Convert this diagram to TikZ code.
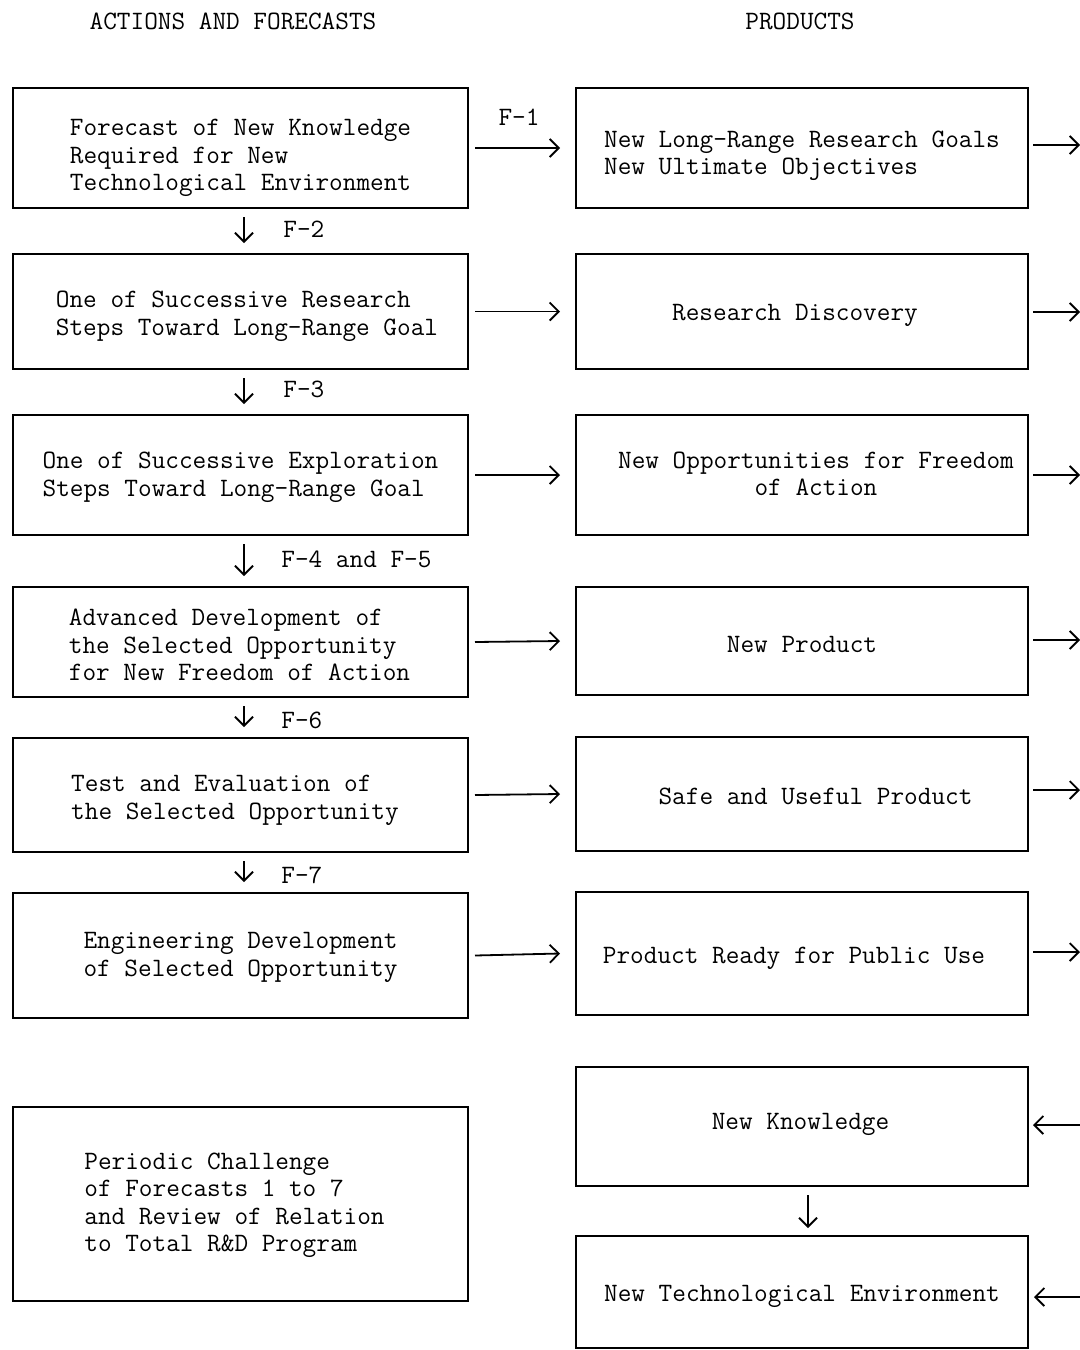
\documentclass[tikz,border=0pt]{standalone}
\usetikzlibrary{arrows.meta}
\begin{document}
\begin{tikzpicture}[x=0.5pt,y=-0.5pt,
  txt/.style={font=\ttfamily\fontsize{13.25}{13.75}\selectfont, inner sep=0pt},
  box/.style={draw, line width=1pt, rectangle, inner sep=0pt, outer sep=0pt},
  lbox/.style={box, minimum width=227.5pt},
  rbox/.style={box, minimum width=226pt},
  arr/.style={line width=0.9pt, -{Straight Barb[length=4.5pt,width=9pt]}},
  lbl/.style={txt}]
\useasboundingbox (0,0) rectangle (1080,1350);
% headers
\node[lbl] (h1) at (233,21) {ACTIONS AND FORECASTS};
\node[lbl] (h2) at (800,21) {PRODUCTS};
% left column boxes
\node[lbox, minimum height=60pt] (L1) at (240.5,148) {};
\node[lbox, minimum height=57.5pt] (L2) at (240.5,311.5) {};
\node[lbox, minimum height=60pt] (L3) at (240.5,475) {};
\node[lbox, minimum height=55pt] (L4) at (240.5,642) {};
\node[lbox, minimum height=57pt] (L5) at (240.5,795) {};
\node[lbox, minimum height=62.5pt] (L6) at (240.5,955.5) {};
\node[lbox, minimum height=97pt] (L7) at (240.5,1204) {};
% left column texts
\node[txt, align=left] (tL1) at ([yshift=-5pt]L1.center) {Forecast of New Knowledge\\Required for New\\Technological Environment};
\node[txt, align=left] (tL2) at ([xshift=3.25pt,yshift=-2.5pt]L2.center) {One of Successive Research\\Steps Toward Long-Range Goal};
\node[txt, align=left] (tL3) at ([yshift=-1.25pt]L3.center) {One of Successive Exploration\\ Steps Toward Long-Range Goal};
\node[txt, align=left] (tL4) at ([xshift=-0.5pt,yshift=-1.5pt]L4.center) {Advanced Development of\\the Selected Opportunity\\for New Freedom of Action};
\node[txt, align=left] (tL5) at ([xshift=-2.75pt,yshift=-2.75pt]L5.center) {Test and Evaluation of\\the Selected Opportunity};
\node[txt, align=left] (tL6) at ([yshift=-1pt]L6.center) {Engineering Development\\of Selected Opportunity};
\node[txt, align=left] (tL7) at ([xshift=-3pt,yshift=-0.75pt]L7.center) {Periodic Challenge\\of Forecasts 1 to 7\\and Review of Relation\\to Total R\&D Program};
% right column boxes
\node[rbox, minimum height=60pt] (R1) at (802,148) {};
\node[rbox, minimum height=57.5pt] (R2) at (802,311.5) {};
\node[rbox, minimum height=60pt] (R3) at (802,475) {};
\node[rbox, minimum height=54pt] (R4) at (802,641) {};
\node[rbox, minimum height=57pt] (R5) at (802,794) {};
\node[rbox, minimum height=61.5pt] (R6) at (802,953.5) {};
\node[rbox, minimum height=59.5pt] (R7) at (802,1126.5) {};
\node[rbox, minimum height=56pt] (R8) at (802,1292) {};
% right column texts
\node[txt, align=left] (tR1) at ([yshift=-4pt]R1.center) {New Long-Range Research Goals\\New Ultimate Objectives};
\node[txt] (tR2) at ([xshift=-3.5pt,yshift=-2pt]R2.center) {Research Discovery};
\node[txt, align=center] (tR3) at ([xshift=7pt,yshift=0.5pt]R3.center) {New Opportunities for Freedom\\of Action};
\node[txt] (tR4) at ([yshift=-1.5pt]R4.center) {New Product};
\node[txt] (tR5) at ([xshift=6.75pt,yshift=-1pt]R5.center) {Safe and Useful Product};
\node[txt] (tR6) at ([xshift=-4pt,yshift=-2.5pt]R6.center) {Product Ready for Public Use};
\node[txt] (tR7) at ([xshift=-0.75pt,yshift=1pt]R7.center) {New Knowledge};
\node[txt] (tR8) at ([yshift=-2pt]R8.center) {New Technological Environment};
% horizontal arrows left -> right
\foreach \i in {1,...,6}{
  \draw[arr] ([xshift=3.5pt]L\i.east) -- ([xshift=-8pt]R\i.west);
}
\node[lbl] (f1) at (519,117) {F-1};
% outgoing to the right edge
\foreach \i/\y in {1/145,2/312,3/475,4/640,5/790,6/952}{
  \coordinate (o\i) at (1080,\y);
  \draw[arr] ([xshift=2.5pt]R\i.east |- o\i) -- (o\i);
}
% incoming from the right edge
\coordinate (i7) at (1080,1125);
\coordinate (i8) at (1080,1297);
\draw[arr] (i7) -- ([xshift=2.5pt]R7.east |- i7);
\draw[arr] (i8) -- ([xshift=3pt]R8.east |- i8);
% vertical arrows in left column
\foreach \a/\b in {1/2,2/3,3/4,4/5,5/6}{
  \draw[arr] ([xshift=1.75pt,yshift=-4.5pt]L\a.south) -- ([xshift=1.75pt,yshift=5.5pt]L\b.north);
}
\node[lbl, anchor=west] (f2) at (283,229) {F-2};
\node[lbl, anchor=west] (f3) at (283,389) {F-3};
\node[lbl, anchor=west] (f45) at (281,559) {F-4 and F-5};
\node[lbl, anchor=west] (f6) at (281,720) {F-6};
\node[lbl, anchor=west] (f7) at (281,875) {F-7};
% vertical arrow right column
\draw[arr] ([xshift=3pt,yshift=-4.5pt]R7.south) -- ([xshift=3pt,yshift=4pt]R8.north);
\end{tikzpicture}
\end{document}
